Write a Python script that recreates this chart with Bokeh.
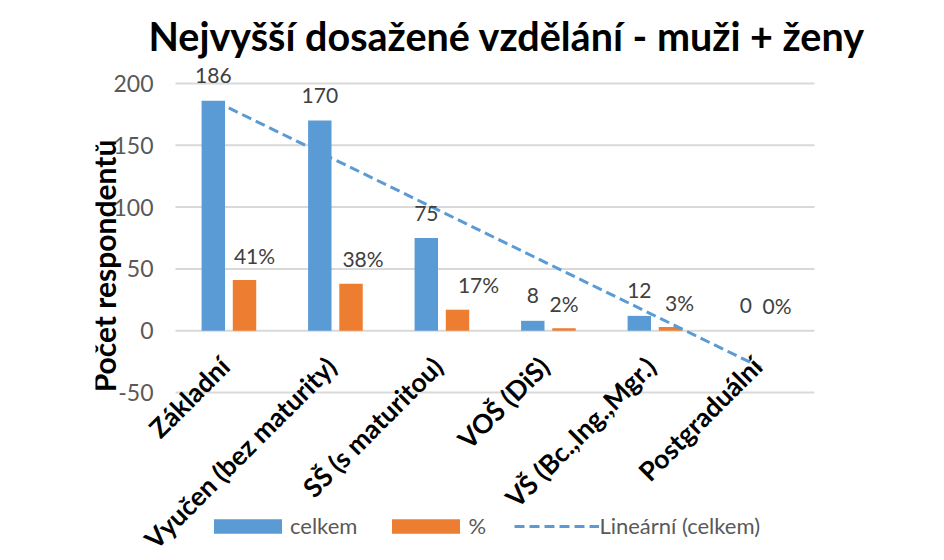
import numpy as np
from bokeh.plotting import figure
from bokeh.models import ColumnDataSource, Range1d, FixedTicker, Legend, LegendItem
from bokeh.core.properties import value
from bokeh.embed import file_html
from bokeh.resources import INLINE

# ---- data ----
categories = ["Základní", "Vyučen (bez maturity)", "SŠ (s maturitou)", "VOŠ (DiS)",
              "VŠ (Bc.,Ing.,Mgr.)", "Postgraduální"]
celkem = [186, 170, 75, 8, 12, 0]
procenta = [41, 38, 17, 2, 3, 0]
y_ticks = [-50, 0, 50, 100, 150, 200]
title_text = "Nejvyšší dosažené vzdělání - muži + ženy"
y_label = "Počet respondentů"
legend_labels = ["celkem", "%", "Lineární (celkem)"]

# linear trendline of 'celkem' (like Excel's linear trendline)
idx = np.arange(len(categories))
slope, intercept = np.polyfit(idx, celkem, 1)
trend = list(slope * idx + intercept)

FONT = "Lato"
BLUE = "#5B9BD5"
ORANGE = "#ED7D31"
BW = 0.22           # bar width (category units)
OFF_B, OFF_O = -0.145, 0.148   # bar offsets inside a category

src = ColumnDataSource(dict(
    i=list(idx),
    xb=list(idx + OFF_B),
    xo=list(idx + OFF_O),
    cat=categories,
    celkem=celkem,
    pct=procenta,
    celkem_lbl=[str(v) for v in celkem],
    pct_lbl=[f"{v}%" for v in procenta],
    zero=[0] * len(categories),
    trend=trend,
))
# small manual nudges of the percentage labels (as in the original chart)
src.data["pct_dx"] = [10, 12, 21, 0, 9, 0]

n = len(categories)
p = figure(
    width=944, height=560,
    x_range=Range1d(-1.2512, n + 0.7207),
    y_range=Range1d(-185.9, 218.6),
    x_axis_location=None,
    output_backend="svg", toolbar_location=None,
    min_border_left=95, min_border_right=0, min_border_top=60, min_border_bottom=0,
    background_fill_color="white", border_fill_color="white",
)
p.outline_line_color = None
p.xgrid.visible = False
p.ygrid.visible = False

# horizontal gridlines spanning the category area only (as in Excel)
grid_src = ColumnDataSource(dict(y=y_ticks, x0=[-0.5] * len(y_ticks),
                                 x1=[n - 0.5] * len(y_ticks)))
p.segment(x0="x0", x1="x1", y0="y", y1="y", source=grid_src,
          line_color="#d9d9d9", line_width=2, level="underlay")

ax = p.yaxis[0]
ax.fixed_location = -0.5
ax.bounds = (-95, 200)
ax.ticker = FixedTicker(ticks=y_ticks)
ax.major_label_overrides = {t: str(t) for t in y_ticks}
ax.axis_line_color = None
ax.major_tick_line_color = None
ax.minor_tick_line_color = None
ax.major_tick_out = 0
ax.major_tick_in = 0
ax.major_label_standoff = 22
ax.major_label_text_font = FONT
ax.major_label_text_font_size = "23px"
ax.major_label_text_color = "#595959"
ax.axis_label = y_label
ax.axis_label_text_font = FONT
ax.axis_label_text_font_style = "bold"
ax.axis_label_text_font_size = "30px"
ax.axis_label_text_color = "black"
ax.axis_label_standoff = -12

p.title.text = title_text
p.title.align = "left"
p.title.offset = 53
p.title.standoff = 3
p.title.text_font = FONT
p.title.text_font_size = "39.5px"
p.title.text_font_style = "bold"
p.title.text_color = "black"

r_blue = p.vbar(x="xb", top="celkem", width=BW, source=src,
                fill_color=BLUE, line_color=None)
r_orange = p.vbar(x="xo", top="pct", width=BW, source=src,
                  fill_color=ORANGE, line_color=None)
r_trend = p.line(x="i", y="trend", source=src, line_color=BLUE, line_width=3,
                 line_dash="10 5")

# data labels
p.text(x="xb", y="celkem", text="celkem_lbl", source=src,
       text_font=value(FONT), text_font_size=value("21px"), text_color="#404040",
       text_align="center", text_baseline="middle", y_offset=-25)
p.text(x="xo", y="pct", text="pct_lbl", source=src, x_offset="pct_dx",
       text_font=value(FONT), text_font_size=value("21px"), text_color="#404040",
       text_align="center", text_baseline="middle", y_offset=-25)

# category labels (rotated 45°), hanging under the zero line like Excel
p.text(x="i", y="zero", text="cat", source=src, angle=np.pi / 4,
       text_font=value(FONT), text_font_size=value("26.5px"), text_font_style="bold",
       text_color="black", text_align="right", text_baseline="middle",
       x_offset=-4, y_offset=31)

legend = Legend(items=[
    LegendItem(label=legend_labels[0], renderers=[r_blue]),
    LegendItem(label=legend_labels[1], renderers=[r_orange]),
    LegendItem(label=legend_labels[2], renderers=[r_trend]),
], orientation="horizontal", location=(110, 21))
legend.padding = 0
legend.margin = 0
legend.border_line_color = None
legend.background_fill_alpha = 0
legend.glyph_width = 85
legend.glyph_height = 18
legend.label_standoff = 0
legend.spacing = 26
legend.label_text_font = FONT
legend.label_text_font_size = "22px"
legend.label_text_color = "#595959"
p.add_layout(legend)

open("out.html", "w").write(file_html(p, INLINE))
